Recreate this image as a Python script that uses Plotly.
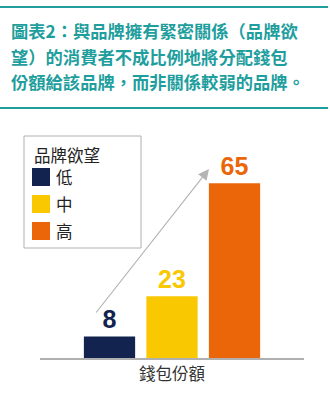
import plotly.graph_objects as go

# ---- data ----
categories = ["低", "中", "高"]
values = [8, 23, 65]
colors = ["#12234f", "#f9c800", "#eb6608"]
title_lines = ["圖表2：與品牌擁有緊密關係（品牌欲",
               "望）的消費者不成比例地將分配錢包",
               "份額給該品牌，而非關係較弱的品牌。"]
legend_title = "品牌欲望"
x_title = "錢包份額"

W, H = 330, 398
L, R, T, B = 40, 26, 120, 40
PW, PH = W - L - R, H - T - B
YMAX = PH / 2.69
XR = [-1.112, 3.112]

def px(x):
    return (x - L) / PW

def py(y):
    return (H - B - y) / PH

TEAL = "#1f9e9e"
CJK = "Noto Sans CJK TC, Noto Sans CJK SC, sans-serif"
NUM = "Liberation Sans Narrow, Arial Narrow, Liberation Sans, Arial, sans-serif"

fig = go.Figure()
fig.add_trace(go.Bar(
    x=list(range(len(categories))), y=values,
    marker=dict(color=colors, line=dict(width=0)),
    text=[str(v) for v in values], textposition="outside",
    textfont=dict(family=NUM, size=25, color=colors, weight="bold"),
    cliponaxis=False, showlegend=False, width=0.82,
))

shapes = []
annotations = []

# teal rules
for yy in (7, 108):
    shapes.append(dict(type="line", xref="paper", yref="paper",
                       x0=px(0), x1=px(328), y0=py(yy), y1=py(yy),
                       line=dict(color=TEAL, width=2)))
# title
for i, line in enumerate(title_lines):
    annotations.append(dict(text=line, xref="paper", yref="paper",
                            x=px(9), y=py(30 + i * 26), xanchor="left", yanchor="middle",
                            showarrow=False,
                            font=dict(family=CJK, size=17.3, color=TEAL, weight="bold")))

# legend box
shapes.append(dict(type="rect", xref="paper", yref="paper",
                   x0=px(24), x1=px(141), y0=py(136), y1=py(248),
                   line=dict(color="#b0b0b0", width=1), fillcolor="white", layer="below"))
annotations.append(dict(text=legend_title, xref="paper", yref="paper",
                        x=px(32), y=py(155), xanchor="left", yanchor="middle", showarrow=False,
                        font=dict(family=CJK, size=16.5, color="#222")))
for i, (c, col) in enumerate(zip(categories, colors)):
    top = 168 + i * 27
    shapes.append(dict(type="rect", xref="paper", yref="paper",
                       x0=px(32), x1=px(50), y0=py(top), y1=py(top + 18),
                       line=dict(width=0), fillcolor=col))
    annotations.append(dict(text=c, xref="paper", yref="paper",
                            x=px(54), y=py(top + 9), xanchor="left", yanchor="middle",
                            showarrow=False, font=dict(family=CJK, size=16.5, color="#222")))

# arrow
def dx(p):
    return XR[0] + (p - L) / PW * (XR[1] - XR[0])

def dy(p):
    return (H - B - p) / 2.69

annotations.append(dict(x=dx(209), y=dy(169), ax=dx(95), ay=dy(314),
                        xref="x", yref="y", axref="x", ayref="y",
                        showarrow=True, arrowhead=2, arrowsize=1.8, arrowwidth=1.2,
                        arrowcolor="#b5b5b5", text=""))

fig.update_layout(
    width=W, height=H, margin=dict(l=L, r=R, t=T, b=B),
    paper_bgcolor="white", plot_bgcolor="white",
    shapes=shapes, annotations=annotations,
    xaxis=dict(range=XR, showticklabels=False, showgrid=False, zeroline=False,
               showline=True, linecolor="#b0b0b0", linewidth=1.5, ticks="",
               title=dict(text=x_title, standoff=10,
                          font=dict(family=CJK, size=16.5, color="#333"))),
    yaxis=dict(range=[0, YMAX], visible=False, fixedrange=True),
    showlegend=False,
)

fig.write_html("out.html")
